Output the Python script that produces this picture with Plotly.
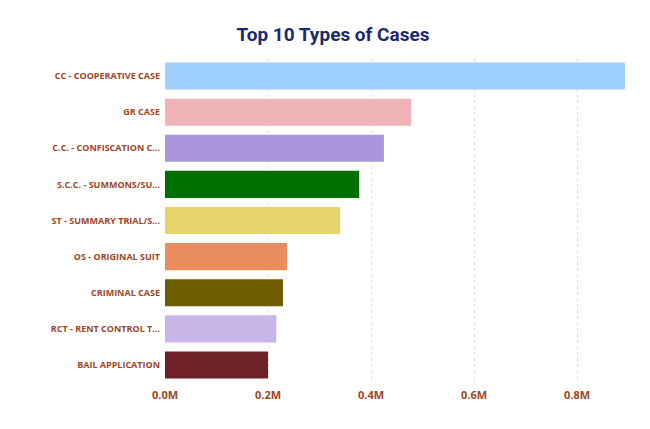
import plotly.graph_objects as go

# Dados
categorias = ['CC - COOPERATIVE CASE', 'GR CASE', 'C.C. - CONFISCATION C...',
              'S.C.C. - SUMMONS/SU...', 'ST - SUMMARY TRIAL/S...', 'OS - ORIGINAL SUIT',
              'CRIMINAL CASE', 'RCT - RENT CONTROL T...', 'BAIL APPLICATION']
valores = [893000, 478000, 425000, 377000, 340000, 237000, 229000, 216000, 200000]
cores = ['#9fcfff', '#f0b4b8', '#ab96dc', '#007000', '#e8d46a', '#eb8c5f',
         '#6e5c00', '#c8b6e8', '#6e2227']
ticks_v = [0, 200000, 400000, 600000, 800000]
ticks_t = ['<b>0.0M</b>', '<b>0.2M</b>', '<b>0.4M</b>', '<b>0.6M</b>', '<b>0.8M</b>']
rotulos = ['<b>' + c + '</b>' for c in categorias]

fig = go.Figure(go.Bar(x=valores, y=rotulos, orientation='h',
                       marker=dict(color=cores, line=dict(width=0)),
                       width=0.75))
fig.update_layout(
    width=650, height=429,
    paper_bgcolor='white', plot_bgcolor='white',
    margin=dict(l=157, r=33, t=50, b=54),
    title=dict(text='<b>Top 10 Types of Cases</b>', x=0.5, y=0.955,
               font=dict(family='Roboto', size=19, color='#1a2a6c')),
    showlegend=False,
    font=dict(family='Open Sans', color='#a0451f'),
    xaxis=dict(range=[0, 893000], tickvals=ticks_v, ticktext=ticks_t,
               showgrid=True, gridcolor='#e0e0e0', griddash='dot',
               zeroline=False, tickfont=dict(size=11, color='#a0451f'),
               ticks='', ticklabelstandoff=4, automargin=False),
    yaxis=dict(autorange='reversed', tickfont=dict(size=9, color='#a0451f'),
               ticks='', ticklabelstandoff=4, showgrid=False, automargin=False),
)
fig.write_html('out.html')
